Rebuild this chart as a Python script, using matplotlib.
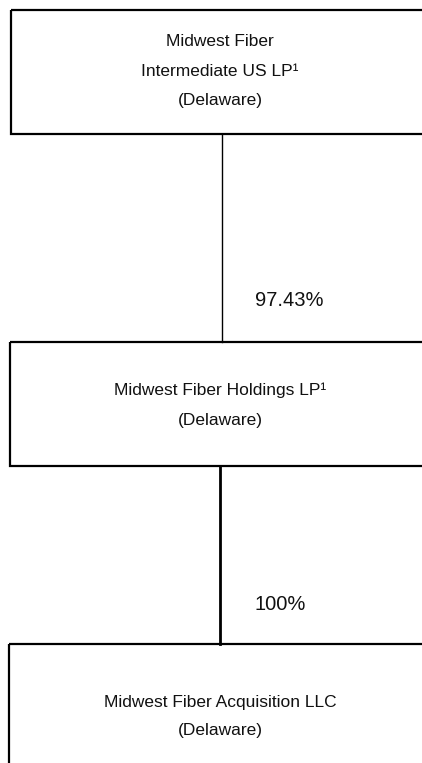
import matplotlib.pyplot as plt
from matplotlib.patches import Rectangle

plt.rcParams['font.family'] = ['Liberation Sans', 'DejaVu Sans']

# entities, top to bottom
entity_names = ["Midwest Fiber\nIntermediate US LP\u00b9",
                "Midwest Fiber Holdings LP\u00b9",
                "Midwest Fiber Acquisition LLC"]
entity_states = ["(Delaware)", "(Delaware)", "(Delaware)"]
# ownership of each child by its parent
ownership = ["97.43%", "100%"]

# layout in pixels (figure is 422 x 763)
box_left = [11, 10, 9]
box_top = [10, 342, 644]
box_bottom = [134, 466, 800]
box_right = 440
line_x = [221.5, 220]
line_w = [1.0, 2.0]
label_y = [300, 604]
label_x = 255
text_x = 220
text_y = [[42, 71, 101], [390, 421], [703, 730]]

fig = plt.figure(figsize=(4.22, 7.63), dpi=100)
ax = fig.add_axes([0, 0, 1, 1])
ax.set_xlim(0, 422)
ax.set_ylim(763, 0)
ax.axis('off')

for i in range(len(entity_names)):
    r = Rectangle((box_left[i], box_top[i]), box_right - box_left[i],
                  box_bottom[i] - box_top[i], fill=False, edgecolor='black',
                  linewidth=1.6, clip_on=True)
    ax.add_patch(r)
    lines = entity_names[i].split("\n") + [entity_states[i]]
    for j, t in enumerate(lines):
        ax.text(text_x, text_y[i][j], t, ha='center', va='center', fontsize=12.5,
                color='#111111')

# connectors and ownership labels
for i in range(len(ownership)):
    ax.plot([line_x[i], line_x[i]], [box_bottom[i], box_top[i + 1]],
            color='black', linewidth=line_w[i])
    ax.text(label_x, label_y[i], ownership[i], ha='left', va='center',
            fontsize=14.5, color='#111111')

fig.savefig("out.png", dpi=100)
